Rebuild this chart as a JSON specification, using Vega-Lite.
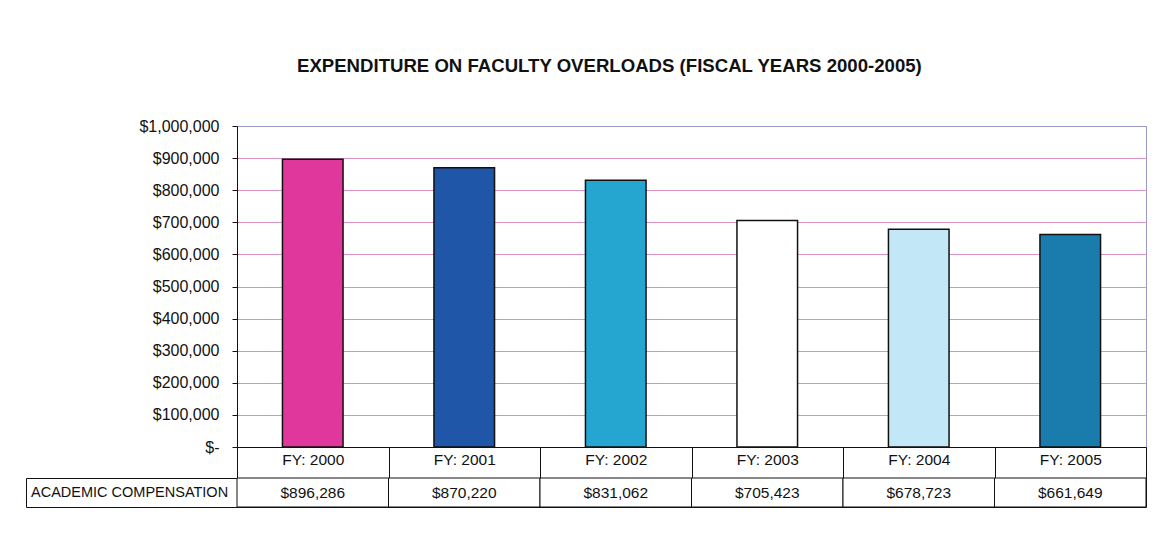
{
  "$schema": "https://vega.github.io/schema/vega-lite/v6.json",
  "background": "white",
  "padding": {"left": 25, "top": 56, "right": 10, "bottom": 10},
  "config": {"font": "Liberation Sans"},
  "title": {
    "text": "EXPENDITURE ON FACULTY OVERLOADS (FISCAL YEARS 2000-2005)",
    "fontSize": 18.6, "fontWeight": "bold", "font": "Liberation Sans", "color": "#111111",
    "anchor": "start", "frame": "group", "offset": 42, "dx": 271
  },
  "datasets": {
    "fy": [
      {"fy": "FY: 2000", "value": 896286},
      {"fy": "FY: 2001", "value": 870220},
      {"fy": "FY: 2002", "value": 831062},
      {"fy": "FY: 2003", "value": 705423},
      {"fy": "FY: 2004", "value": 678723},
      {"fy": "FY: 2005", "value": 661649}
    ],
    "rowlabel": [{"row": "ACADEMIC COMPENSATION"}],
    "empty": []
  },
  "columns": 2,
  "bounds": "flush",
  "spacing": {"row": 31, "column": 0},
  "concat": [
    {
      "width": 211,
      "height": 321,
      "data": {"name": "empty"},
      "view": {"stroke": null, "fill": null},
      "mark": "point"
    },
    {
      "width": 909,
      "height": 321,
      "data": {"name": "fy"},
      "view": {"stroke": "#9a9ac8", "strokeWidth": 1},
      "mark": {"type": "bar", "stroke": "#111111", "strokeWidth": 1.5, "width": {"band": 0.4}},
      "encoding": {
        "x": {
          "field": "fy", "type": "nominal", "sort": null,
          "scale": {"type": "band", "paddingInner": 0, "paddingOuter": 0},
          "axis": {
            "title": null, "labelAngle": 0, "grid": false,
            "domainColor": "#111111", "tickColor": "#111111", "tickBand": "extent",
            "tickSize": 31, "labelPadding": -19, "labelBaseline": "middle",
            "labelFontSize": 15.5, "labelColor": "#111111", "labelFont": "Liberation Sans",
            "labelOverlap": false, "labelFlush": false, "labelBound": false
          }
        },
        "y": {
          "field": "value", "type": "quantitative",
          "scale": {"domain": [0, 1000000], "nice": false},
          "axis": {
            "title": null,
            "values": [0, 100000, 200000, 300000, 400000, 500000, 600000, 700000, 800000, 900000, 1000000],
            "labelExpr": "datum.value == 0 ? '$-' : '$' + format(datum.value, ',')",
            "domainColor": "#111111", "tickColor": "#111111", "tickSize": 5,
            "labelPadding": 13, "labelFontSize": 16, "labelColor": "#111111", "labelFont": "Liberation Sans",
            "grid": true,
            "gridColor": {"condition": {"test": "datum.value == 1000000", "value": "#9a9ac8"}, "value": "#d992c4"},
            "gridWidth": 1
          }
        },
        "color": {
          "field": "fy", "type": "nominal", "sort": null,
          "scale": {"range": ["#e0379c", "#1f56a8", "#25a6d0", "#ffffff", "#c2e8f8", "#1a7cad"]},
          "legend": null
        }
      }
    },
    {
      "width": 211,
      "height": 29,
      "data": {"name": "rowlabel"},
      "view": {"stroke": "#111111", "strokeWidth": 1, "fill": "white"},
      "mark": {"type": "text", "align": "left", "baseline": "middle", "dx": 5, "fontSize": 14.5, "font": "Liberation Sans", "color": "#111111"},
      "encoding": {
        "x": {"field": "row", "type": "nominal", "bandPosition": 0, "scale": {"type": "band", "paddingInner": 0, "paddingOuter": 0}, "axis": null},
        "text": {"field": "row"}
      }
    },
    {
      "width": 909,
      "height": 29,
      "data": {"name": "fy"},
      "view": {"stroke": "#111111", "strokeWidth": 1},
      "encoding": {
        "x": {"field": "fy", "type": "nominal", "sort": null, "scale": {"type": "band", "paddingInner": 0, "paddingOuter": 0}, "axis": null}
      },
      "layer": [
        {"mark": {"type": "rect", "fill": "white", "stroke": "#111111", "strokeWidth": 1}},
        {
          "mark": {"type": "text", "fontSize": 15.5, "font": "Liberation Sans", "color": "#111111", "baseline": "middle"},
          "encoding": {"text": {"field": "value", "type": "quantitative", "format": "$,.0f"}}
        }
      ]
    }
  ]
}
